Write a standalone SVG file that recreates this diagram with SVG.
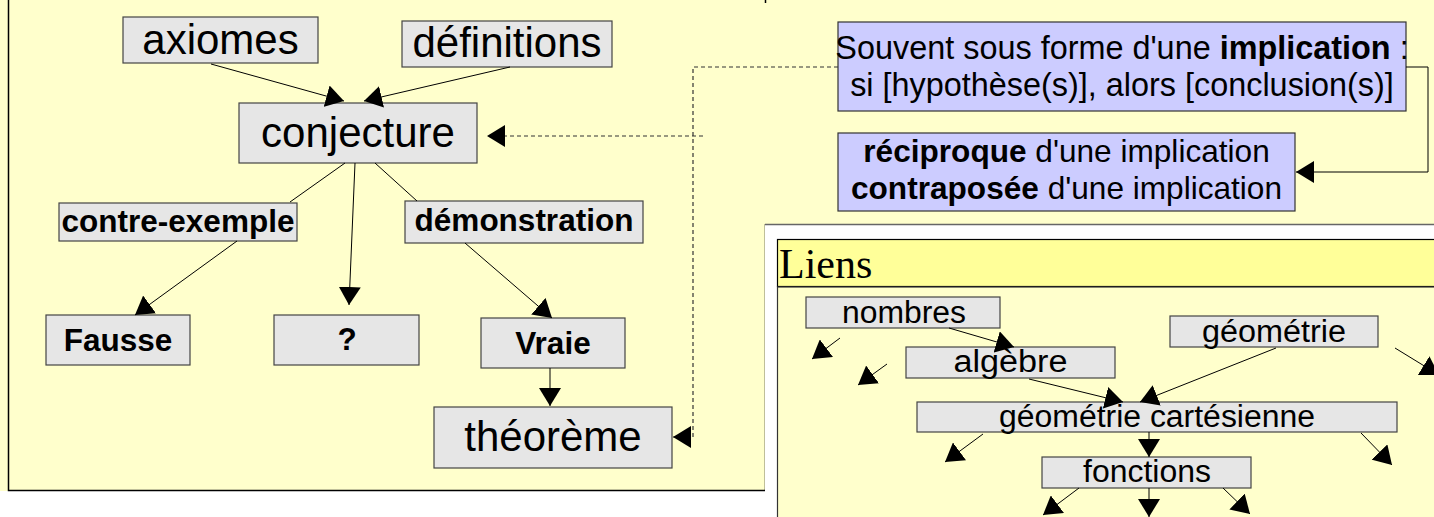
<svg xmlns="http://www.w3.org/2000/svg" width="1434" height="517" viewBox="0 0 1434 517">
<defs>
<marker id="ah" viewBox="0 0 18 22" refX="18" refY="11" markerWidth="18" markerHeight="22" markerUnits="userSpaceOnUse" orient="auto"><path d="M0,0 L18,11 L0,22 z" fill="#000" stroke="none"/></marker>
</defs>
<style>
.box{fill:#e6e6e6;stroke:#444;stroke-width:1.2}
.blue{fill:#ccccff;stroke:#333;stroke-width:1.2}
.t{font-family:"Liberation Sans",Arial,sans-serif;fill:#000;text-anchor:middle}
.big{font-size:42px}
.b{font-weight:bold;font-size:31.5px}
.m{font-size:32.4px}
.r{font-size:31.6px}
.l{font-size:31px}
.c{fill:none;stroke:#000;stroke-width:1}
.d{fill:none;stroke:#333;stroke-width:1.2;stroke-dasharray:4 3}
</style>
<rect width="1434" height="517" fill="#ffffcc"/>
<rect x="0" y="491" width="777" height="26" fill="#fff"/>
<g id="panel-left">
<path d="M8.5,0 V490.5 H765.5 V224" fill="none" stroke="#000" stroke-width="1.5"/>
<path d="M765.5,0 V3" fill="none" stroke="#000" stroke-width="1.5"/>
</g>
<g id="panel-liens">
<rect x="765" y="224" width="669" height="293" fill="#fff"/>
<path d="M765,224.5 H1434" stroke="#666" stroke-width="1.5"/>
<rect x="777.5" y="239.5" width="680" height="47" fill="#ffff99" stroke="#000" stroke-width="1.2"/>
<rect x="777.5" y="287" width="680" height="250" fill="#ffffcc" stroke="#333" stroke-width="1.2"/>
<text x="779" y="278" style="font-family:'Liberation Serif','Times New Roman',serif;font-size:42px">Liens</text>
</g>
<g id="n-axiomes"><rect class="box" x="123" y="17" width="195" height="46"/><text class="t big" x="220.5" y="54">axiomes</text></g>
<g id="n-definitions"><rect class="box" x="402" y="21" width="210" height="46"/><text class="t big" x="507" y="57">définitions</text></g>
<g id="n-conjecture"><rect class="box" x="239" y="103" width="238" height="60"/><text class="t big" x="358" y="147">conjecture</text></g>
<g id="n-contre"><rect class="box" x="59" y="203" width="238" height="38"/><text class="t b" x="178" y="232">contre-exemple</text></g>
<g id="n-demo"><rect class="box" x="405" y="201" width="238" height="42"/><text class="t b" x="524" y="231">démonstration</text></g>
<g id="n-fausse"><rect class="box" x="46" y="315" width="144" height="50"/><text class="t b" x="118" y="351">Fausse</text></g>
<g id="n-q"><rect class="box" x="274" y="315" width="145" height="50"/><text class="t b" x="347" y="350">?</text></g>
<g id="n-vraie"><rect class="box" x="481" y="318" width="144" height="50"/><text class="t b" x="553" y="354">Vraie</text></g>
<g id="n-theoreme"><rect class="box" x="434" y="407" width="238" height="61"/><text class="t big" x="553" y="451">théorème</text></g>
<g id="n-souvent"><rect class="blue" x="838" y="22" width="568" height="89"/>
<text class="t m" x="1122" y="59">Souvent sous forme d'une <tspan font-weight="bold">implication</tspan> :</text>
<text class="t m" x="1122" y="96">si [hypothèse(s)], alors [conclusion(s)]</text></g>
<g id="n-reciproque"><rect class="blue" x="838" y="133" width="457" height="78"/>
<text class="t r" x="1066.5" y="162"><tspan font-weight="bold">réciproque</tspan> d'une implication</text>
<text class="t r" x="1066.5" y="199"><tspan font-weight="bold">contraposée</tspan> d'une implication</text></g>
<g id="n-nombres"><rect class="box" x="806" y="297" width="194" height="31"/><text class="t l" x="904" y="323" textLength="124" lengthAdjust="spacingAndGlyphs">nombres</text></g>
<g id="n-algebre"><rect class="box" x="906" y="347" width="209" height="31"/><text class="t l" x="1010.5" y="372" textLength="114" lengthAdjust="spacingAndGlyphs">algèbre</text></g>
<g id="n-geometrie"><rect class="box" x="1170" y="316" width="208" height="31"/><text class="t l" x="1274" y="342" textLength="144" lengthAdjust="spacingAndGlyphs">géométrie</text></g>
<g id="n-geocart"><rect class="box" x="917" y="402" width="480" height="30"/><text class="t l" x="1157" y="427" textLength="316" lengthAdjust="spacingAndGlyphs">géométrie cartésienne</text></g>
<g id="n-fonctions"><rect class="box" x="1042" y="457" width="209" height="31"/><text class="t l" x="1147" y="482" textLength="128" lengthAdjust="spacingAndGlyphs">fonctions</text></g>
<g id="connectors">
<path class="c" d="M211,64 L344,101" marker-end="url(#ah)"/>
<path class="c" d="M510,67 L364,101" marker-end="url(#ah)"/>
<path class="c" d="M355,163 L349,305" marker-end="url(#ah)"/>
<path class="c" d="M345,163 L290,202"/>
<path class="c" d="M375,163 L417,201"/>
<path class="c" d="M237,241 L135,315" marker-end="url(#ah)"/>
<path class="c" d="M465,243 L552,318" marker-end="url(#ah)"/>
<path class="c" d="M550,368 L550,406" marker-end="url(#ah)"/>
<path class="d" d="M838,67 H693 V437 H673" marker-end="url(#ah)"/>
<path class="d" d="M703,136 H487" marker-end="url(#ah)"/>
<path class="c" d="M1406,67 H1428 V172 H1296" marker-end="url(#ah)"/>
<path class="c" d="M949,328 L1014,347" marker-end="url(#ah)"/>
<path class="c" d="M840,338 L812,359" marker-end="url(#ah)"/>
<path class="c" d="M887,364 L858,385" marker-end="url(#ah)"/>
<path class="c" d="M1029,379 L1123,402" marker-end="url(#ah)"/>
<path class="c" d="M1276,348 L1140,402" marker-end="url(#ah)"/>
<path class="c" d="M1395,348 L1439,375" marker-end="url(#ah)"/>
<path class="c" d="M1149,432 L1149,457" marker-end="url(#ah)"/>
<path class="c" d="M983,434 L945,462" marker-end="url(#ah)"/>
<path class="c" d="M1361,433 L1392,465" marker-end="url(#ah)"/>
<path class="c" d="M1079,488 L1043,515" marker-end="url(#ah)"/>
<path class="c" d="M1149,488 L1149,517" marker-end="url(#ah)"/>
<path class="c" d="M1223,488 L1250,514" marker-end="url(#ah)"/>
</g>
</svg>
